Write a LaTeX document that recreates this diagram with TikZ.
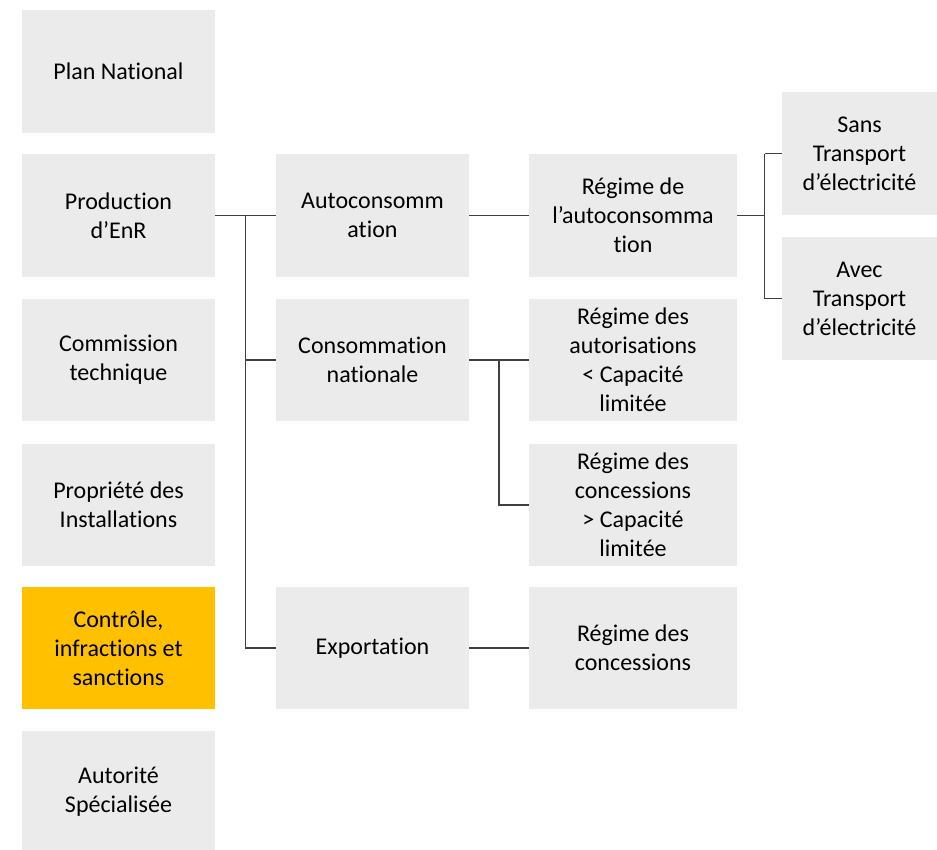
\documentclass[tikz,border=0pt]{standalone}
\usepackage{fontspec}
\setmainfont{Carlito}[Ligatures=NoCommon]
\usetikzlibrary{positioning,calc}
\definecolor{boxgray}{HTML}{EBEBEB}
\definecolor{boxorange}{HTML}{FFC000}
\definecolor{linegray}{HTML}{404040}

\begin{document}
\begin{tikzpicture}[x=0.75pt,y=-0.75pt,
  every node/.style = {shape=rectangle, align=center, inner sep=0pt,
    fill=boxgray, minimum height=92pt,
    font=\fontsize{18}{21.8}\selectfont},
  leftbox/.style = {minimum width=144.75pt},
  midbox/.style = {minimum width=144.75pt},
  regbox/.style = {minimum width=156pt},
  transbox/.style = {minimum width=116.25pt},
  link/.style = {draw=linegray, line width=0.9pt}
  ]
  \useasboundingbox (0,0) rectangle (937,849);
  % left column
  \node[leftbox] (plan) at (118.5,71.5) {Plan National};
  \node[leftbox] (prod) at (118.5,215.5) {Production\\d’EnR};
  \node[leftbox] (comm) at (118.5,360) {Commission\\technique};
  \node[leftbox] (prop) at (118.5,505) {Propriété des\\Installations};
  \node[leftbox, fill=boxorange] (ctrl) at (118.5,648) {Contrôle,\\infractions et\\sanctions};
  \node[leftbox] (auto) at (118.5,792) {Autorité\\Spécialisée};
  % second column
  \node[midbox] (autoc) at (372.5,215.5) {Autoconsomm\\ation};
  \node[midbox] (consn) at (372.5,360) {Consommation\\nationale};
  \node[midbox] (expo) at (372.5,648) {Exportation};
  % third column
  \node[regbox] (regauto) at (633,215.5) {Régime de\\l’autoconsomma\\tion};
  \node[regbox] (regautor) at (633,360) {Régime des\\autorisations\\< Capacité\\limitée};
  \node[regbox] (regconcl) at (633,505) {Régime des\\concessions\\> Capacité\\limitée};
  \node[regbox] (regconc) at (633,648) {Régime des\\concessions};
  % fourth column
  \node[transbox] (sans) at (859.5,153.5) {Sans\\Transport\\d’électricité};
  \node[transbox] (avec) at (859.5,298.5) {Avec\\Transport\\d’électricité};

  \coordinate (f1) at ($(prod.east)!0.5!(autoc.west)$);
  \coordinate (f2) at ($(consn.east)!0.5!(regautor.west)$);
  \coordinate (f3) at ($(regauto.east)!0.62!(regauto.east -| sans.west)$);

  \draw[link] (prod.east) -- (autoc.west);
  \draw[link] (f1) |- (consn.west);
  \draw[link] (f1) |- (expo.west);
  \draw[link] (autoc.east) -- (regauto.west);
  \draw[link] (consn.east) -- (regautor.west);
  \draw[link] (f2) |- (regconcl.west);
  \draw[link] (expo.east) -- (regconc.west);
  \draw[link] (regauto.east) -- (f3);
  \draw[link] (f3 |- sans.west) -- (sans.west);
  \draw[link] (f3 |- sans.west) |- (avec.west);
\end{tikzpicture}
\end{document}
